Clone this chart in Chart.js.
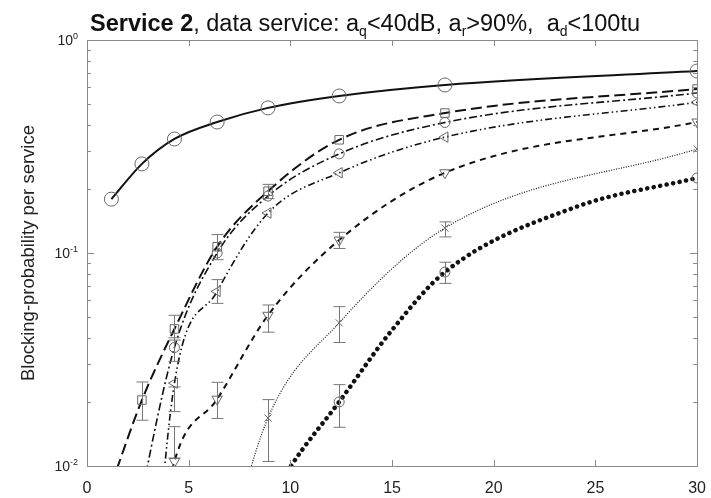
<!DOCTYPE html>
<html>
<head>
<meta charset="utf-8">
<script src="https://cdn.jsdelivr.net/npm/chart.js@4/dist/chart.umd.min.js"></script>
<style>
  body { margin: 0; background: #fff; }
</style>
</head>
<body>
<canvas id="myChart" width="711" height="498"></canvas>
<script>
// load values (x) where the markers sit
const xValues = [1.2, 2.7, 4.3, 6.4, 8.9, 12.4, 17.6, 30];
// the thick dotted curve is read at its own positions
const thickX = [8.9, 10, 12.4, 15, 17.6, 24, 30];

// blocking probability per curve
const solidCircle   = [0.179, 0.262, 0.343, 0.412, 0.48, 0.546, 0.615, 0.715];
const longDashSq    = [0.0082, 0.0204, 0.044, 0.107, 0.195, 0.34, 0.454, 0.589];
const dashDotCirc   = [0.0012, 0.0074, 0.036, 0.10, 0.185, 0.292, 0.41, 0.564];
const dashDotDotTri = [0.0001, 0.0007, 0.0245, 0.066, 0.154, 0.238, 0.35, 0.51];
const dashedDown    = [0.0002, 0.0015, 0.0105, 0.0206, 0.051, 0.115, 0.238, 0.412];
const dottedCross   = [0.00005, 0.0002, 0.0006, 0.0027, 0.0168, 0.047, 0.131, 0.308];
const thickDotted   = [0.0065, 0.0099, 0.02, 0.0435, 0.0814, 0.164, 0.225];
const thickMarkers  = [0, 0, 5, 0, 5, 0, 5];

// error bars (low / high), null where none is drawn
const errLowSq    = [null, 0.0164, 0.039, 0.093, 0.18, null, null, null];
const errHighSq   = [null, 0.0248, 0.051, 0.122, 0.21, null, null, null];
const errLowCirc  = [null, null, 0.031, null, null, null, null, null];
const errHighCirc = [null, null, 0.040, null, null, null, null, null];
const errLowTri   = [null, null, 0.018, 0.058, null, null, null, null];
const errHighTri  = [null, null, 0.0235, 0.075, null, null, null, null];
const errLowDown  = [null, null, 0.0109, 0.0167, 0.0425, 0.105, null, null];
const errHighDown = [null, null, 0.0153, 0.0247, 0.057, 0.125, null, null];
const errLowX     = [null, null, null, null, 0.0105, 0.038, 0.119, null];
const errHighX    = [null, null, null, null, 0.0205, 0.056, 0.14, null];
const errLowD     = [null, null, 0.0152, null, 0.072, null, null];
const errHighD    = [null, null, 0.0241, null, 0.0905, null, null];

// axis ticks
const xTickValues = [0, 5, 10, 15, 20, 25, 30];
const yTickValues = [0.01, 0.1, 1];
const yTickExps = ['-2', '-1', '0'];

const markerColor = '#666';
const fontFam = '"Liberation Sans", Arial, sans-serif';

function serie(xs, ys, dash, width, style, rot, radius, lo, hi, extra) {
    return Object.assign({
        data: xs.map((x, i) => ({ x: x, y: ys[i] })),
        borderColor: '#111',
        borderWidth: width,
        borderDash: dash,
        pointStyle: style,
        rotation: rot,
        pointRadius: radius,
        pointBorderColor: markerColor,
        pointBackgroundColor: 'rgba(0,0,0,0)',
        pointBorderWidth: 1,
        cubicInterpolationMode: 'monotone',
        fill: false,
        xPos: xs,
        errLow: lo,
        errHigh: hi
    }, extra || {});
}

// error bars drawn with the chart scales
const errorBars = {
    id: 'errorBars',
    afterDatasetsDraw(chart) {
        const ctx = chart.ctx, xs = chart.scales.x, ys = chart.scales.y, a = chart.chartArea;
        ctx.save();
        ctx.beginPath();
        ctx.rect(a.left, a.top, a.right - a.left, a.bottom - a.top);
        ctx.clip();
        ctx.strokeStyle = '#777';
        ctx.lineWidth = 1;
        chart.data.datasets.forEach(ds => {
            if (!ds.errLow) return;
            ds.errLow.forEach((lo, i) => {
                const hi = ds.errHigh[i];
                if (lo == null || hi == null) return;
                const px = Math.round(xs.getPixelForValue(ds.xPos[i])) + 0.5;
                const y1 = ys.getPixelForValue(lo), y2 = ys.getPixelForValue(hi);
                ctx.beginPath();
                ctx.moveTo(px, y1); ctx.lineTo(px, y2);
                ctx.moveTo(px - 6, y1); ctx.lineTo(px + 6, y1);
                ctx.moveTo(px - 6, y2); ctx.lineTo(px + 6, y2);
                ctx.stroke();
            });
        });
        ctx.restore();
    }
};

// matlab-like box, inward ticks, y labels and title
const frame = {
    id: 'frame',
    afterDraw(chart) {
        const ctx = chart.ctx, xs = chart.scales.x, ys = chart.scales.y, a = chart.chartArea;
        ctx.save();
        ctx.strokeStyle = '#8a8a8a';
        ctx.lineWidth = 1;
        ctx.strokeRect(Math.round(a.left) + 0.5, Math.round(a.top) + 0.5,
                       Math.round(a.right - a.left), Math.round(a.bottom - a.top));
        ctx.beginPath();
        xTickValues.forEach(v => {
            const px = Math.round(xs.getPixelForValue(v)) + 0.5;
            ctx.moveTo(px, a.bottom); ctx.lineTo(px, a.bottom - 6);
            ctx.moveTo(px, a.top); ctx.lineTo(px, a.top + 6);
        });
        for (let d = 0.01; d < 1; d *= 10) {
            for (let m = 1; m <= 9; m++) {
                const py = Math.round(ys.getPixelForValue(d * m)) + 0.5;
                const len = m === 1 ? 7 : 4;
                ctx.moveTo(a.left, py); ctx.lineTo(a.left + len, py);
                ctx.moveTo(a.right, py); ctx.lineTo(a.right - len, py);
            }
        }
        ctx.stroke();

        // y labels 10^n
        ctx.fillStyle = '#222';
        ctx.textBaseline = 'alphabetic';
        yTickValues.forEach((v, i) => {
            const py = ys.getPixelForValue(v);
            ctx.font = '9px ' + fontFam;
            const ew = ctx.measureText(yTickExps[i]).width;
            ctx.textAlign = 'left';
            ctx.fillText(yTickExps[i], 78 - ew, py - 1);
            ctx.font = '14px ' + fontFam;
            ctx.textAlign = 'right';
            ctx.fillText('10', 78 - ew, py + 5);
        });

        // title with bold part and subscripts
        const parts = [
            { t: 'Service 2', b: true },
            { t: ', data service: a' },
            { t: 'q', s: true },
            { t: '<40dB, a' },
            { t: 'r', s: true },
            { t: '>90%,  a' },
            { t: 'd', s: true },
            { t: '<100tu' }
        ];
        let x = 90;
        ctx.textAlign = 'left';
        ctx.fillStyle = '#111';
        parts.forEach(p => {
            ctx.font = (p.b ? 'bold ' : '') + (p.s ? '14px ' : '23.5px ') + fontFam;
            ctx.fillText(p.t, x, p.s ? 36 : 31);
            x += ctx.measureText(p.t).width;
        });
        ctx.restore();
    }
};

const ctx = document.getElementById('myChart').getContext('2d');

const myChart = new Chart(ctx, {
    type: 'line',
    data: {
        datasets: [
            serie(xValues, solidCircle, [], 2, 'circle', 0, 7, null, null),
            serie(xValues, longDashSq, [11, 5], 2, 'rect', 0, 6, errLowSq, errHighSq),
            serie(xValues, dashDotCirc, [8, 3, 2, 3], 1.6, 'circle', 0, 5, errLowCirc, errHighCirc),
            serie(xValues, dashDotDotTri, [7, 3, 1.5, 3, 1.5, 3], 1.6, 'triangle', -90, 6, errLowTri, errHighTri),
            serie(xValues, dashedDown, [6, 5], 2, 'triangle', 180, 6, errLowDown, errHighDown),
            serie(xValues, dottedCross, [1, 1.5], 1.2, 'crossRot', 0, 5, errLowX, errHighX),
            serie(thickX, thickDotted, [0.1, 6.5], 4.5, 'circle', 0, thickMarkers, errLowD, errHighD, { borderCapStyle: 'round' })
        ]
    },
    options: {
        responsive: false,
        animation: false,
        devicePixelRatio: 1,
        layout: { padding: { top: 40, right: 6, left: 0, bottom: 0 } },
        plugins: {
            legend: { display: false },
            tooltip: { enabled: false }
        },
        scales: {
            x: {
                type: 'linear',
                min: 0,
                max: 30,
                afterFit(scale) { scale.height = 32; },
                afterBuildTicks(scale) { scale.ticks = xTickValues.map(v => ({ value: v })); },
                grid: { display: false },
                border: { display: false },
                ticks: {
                    padding: 5,
                    color: '#222',
                    font: { size: 16, family: fontFam },
                    maxRotation: 0
                }
            },
            y: {
                type: 'logarithmic',
                min: 0.01,
                max: 1,
                afterFit(scale) { scale.width = 87; },
                grid: { display: false },
                border: { display: false },
                ticks: { display: false },
                title: {
                    display: true,
                    text: 'Blocking-probability per service',
                    color: '#222',
                    font: { size: 18.5, family: fontFam },
                    padding: { top: 18, bottom: 0 }
                }
            }
        }
    },
    plugins: [errorBars, frame]
});
</script>
</body>
</html>
